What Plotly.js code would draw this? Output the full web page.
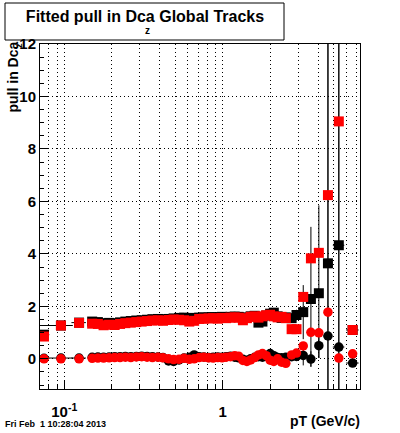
<!DOCTYPE html>
<html>
<head>
<meta charset="utf-8">
<script src="https://cdn.plot.ly/plotly-3.0.1.min.js"></script>
<style>html,body{margin:0;padding:0;background:#fff;}#chart{width:400px;height:433px;}</style>
</head>
<body>
<div id="chart"></div>
<script>
// pT bin positions (GeV/c)
const pT = [0.0745, 0.0953, 0.124, 0.15, 0.163, 0.177, 0.192, 0.208, 0.225, 0.243,
  0.263, 0.285, 0.308, 0.333, 0.36, 0.39, 0.42, 0.455, 0.49, 0.53,
  0.57, 0.615, 0.66, 0.71, 0.76, 0.815, 0.87, 0.93, 0.99, 1.05,
  1.12, 1.19, 1.26, 1.34, 1.42, 1.5, 1.59, 1.68, 1.78, 1.88,
  1.99, 2.1, 2.22, 2.35, 2.5, 2.72, 2.92, 3.22, 3.6, 4.04,
  4.61, 5.4, 6.6];

// black series: sigma (squares) and mean (circles)
const blackSigma = [0.92, 1.27, 1.38, 1.42, 1.40, 1.36, 1.37, 1.36, 1.39, 1.42,
  1.44, 1.46, 1.47, 1.49, 1.51, 1.52, 1.51, 1.52, 1.54, 1.56,
  1.57, 1.55, 1.56, 1.57, 1.58, 1.58, 1.59, 1.58, 1.60, 1.59,
  1.60, 1.61, 1.60, 1.55, 1.58, 1.62, 1.64, 1.38, 1.42, 1.65,
  1.72, 1.76, 1.62, 1.56, 1.58, 1.55, 1.67, 1.78, 2.28, 2.50,
  3.64, 4.33, 1.10];
const blackSigmaErrUp = [0.03, 0.03, 0.03, 0.03, 0.03, 0.03, 0.03, 0.03, 0.03, 0.03,
  0.03, 0.03, 0.03, 0.03, 0.03, 0.03, 0.03, 0.03, 0.03, 0.03,
  0.03, 0.03, 0.03, 0.03, 0.03, 0.03, 0.03, 0.03, 0.03, 0.03,
  0.03, 0.03, 0.03, 0.03, 0.03, 0.03, 0.03, 0.04, 0.04, 0.04,
  0.05, 0.05, 0.06, 0.06, 0.08, 0.15, 0.2, 1.03, 2.75, 3.35,
  15, 15, 0.15];
const blackSigmaErrDown = [0.03, 0.03, 0.03, 0.03, 0.03, 0.03, 0.03, 0.03, 0.03, 0.03,
  0.03, 0.03, 0.03, 0.03, 0.03, 0.03, 0.03, 0.03, 0.03, 0.03,
  0.03, 0.03, 0.03, 0.03, 0.03, 0.03, 0.03, 0.03, 0.03, 0.03,
  0.03, 0.03, 0.03, 0.03, 0.03, 0.03, 0.03, 0.04, 0.04, 0.04,
  0.05, 0.05, 0.06, 0.06, 0.08, 0.15, 0.2, 1.03, 2.57, 2.47,
  15, 15, 0.15];
const blackMean = [0.02, 0.03, 0.03, 0.06, 0.07, 0.06, 0.07, 0.08, 0.08, 0.09,
  0.08, 0.09, 0.10, 0.09, 0.08, 0.07, 0.05, -0.08, -0.10, -0.04,
  0.03, 0.06, 0.15, 0.08, 0.07, 0.05, 0.06, 0.07, 0.06, 0.08,
  0.10, 0.06, 0.04, -0.02, -0.05, 0.00, 0.06, 0.08, 0.06, 0.10,
  0.20, 0.12, 0.05, 0.04, 0.06, 0.08, 0.09, 0.13, -0.01, 0.50,
  0.87, 0.45, -0.16];
const blackMeanErr = [0.02, 0.02, 0.02, 0.02, 0.02, 0.02, 0.02, 0.02, 0.02, 0.02,
  0.02, 0.02, 0.02, 0.02, 0.02, 0.02, 0.02, 0.02, 0.02, 0.02,
  0.02, 0.02, 0.02, 0.02, 0.02, 0.02, 0.02, 0.02, 0.02, 0.02,
  0.02, 0.02, 0.02, 0.02, 0.02, 0.02, 0.02, 0.03, 0.03, 0.03,
  0.03, 0.04, 0.04, 0.05, 0.06, 0.1, 0.12, 0.38, 0.3, 0.47,
  15, 15, 0.1];
// horizontal (bin) half widths of the black series
const binHalfUp = [0.006, 0.018, 0.013, 0.006, 0.006, 0.006, 0.006, 0.006, 0.006, 0.006,
  0.006, 0.006, 0.006, 0.006, 0.006, 0.006, 0.006, 0.006, 0.006, 0.006,
  0.006, 0.006, 0.006, 0.006, 0.006, 0.006, 0.006, 0.006, 0.006, 0.006,
  0.006, 0.006, 0.006, 0.006, 0.006, 0.006, 0.006, 0.006, 0.006, 0.006,
  0.006, 0.006, 0.006, 0.006, 0.006, 0.1, 0.1, 0.12, 0.2, 0.22,
  0.3, 0.45, 0.6];
const binHalfDown = [0.01, 0.025, 0.013, 0.006, 0.006, 0.006, 0.006, 0.006, 0.006, 0.006,
  0.006, 0.006, 0.006, 0.006, 0.006, 0.006, 0.006, 0.006, 0.006, 0.006,
  0.006, 0.006, 0.006, 0.006, 0.006, 0.006, 0.006, 0.006, 0.006, 0.006,
  0.006, 0.006, 0.006, 0.006, 0.006, 0.006, 0.006, 0.006, 0.006, 0.006,
  0.006, 0.006, 0.006, 0.006, 0.006, 0.1, 0.1, 0.12, 0.2, 0.22,
  0.3, 0.45, 0.6];

// red series: sigma (squares) and mean (circles)
const redSigma = [0.85, 1.27, 1.37, 1.34, 1.33, 1.28, 1.30, 1.29, 1.33, 1.36,
  1.38, 1.40, 1.42, 1.44, 1.46, 1.47, 1.45, 1.48, 1.50, 1.49,
  1.47, 1.42, 1.45, 1.52, 1.53, 1.54, 1.55, 1.53, 1.56, 1.55,
  1.57, 1.58, 1.57, 1.47, 1.55, 1.60, 1.62, 1.57, 1.62, 1.66,
  1.68, 1.62, 1.58, 1.60, 1.55, 1.13, 1.13, 2.36, 3.83, 4.04,
  6.24, 9.05, 1.10];
const redMean = [0.00, 0.00, 0.00, 0.02, 0.03, 0.03, 0.04, 0.05, 0.05, 0.06,
  0.05, 0.07, 0.08, 0.06, 0.05, 0.06, 0.04, 0.00, -0.03, -0.02,
  0.02, -0.02, 0.00, 0.05, 0.06, 0.04, 0.03, 0.05, 0.04, 0.06,
  0.08, 0.12, 0.10, -0.06, -0.10, -0.04, 0.05, 0.15, 0.20, 0.12,
  -0.05, -0.10, 0.00, -0.13, -0.17, 0.15, 0.22, 0.49, 1.01, 0.99,
  1.78, 0.03, 0.19];

const xTicks = [0.1, 1];
const xTickText = ['10<sup>-1</sup>', '1'];
const xMinorTicks = [0.08, 0.09, 0.2, 0.3, 0.4, 0.5, 0.6, 0.7, 0.8, 0.9, 2, 3, 4, 5, 6, 7];
const yTicks = [0, 2, 4, 6, 8, 10, 12];

const F = 'Liberation Sans, Arial, Helvetica, sans-serif';
const errStyle = {color: '#000', thickness: 1, width: 0};
const gridDash = '1px,3px';

const traces = [
  {x: pT, y: blackSigma, type: 'scatter', mode: 'markers', name: 'sigma (black)',
   marker: {symbol: 'square', size: 10, color: '#000'},
   error_y: Object.assign({type: 'data', symmetric: false, array: blackSigmaErrUp, arrayminus: blackSigmaErrDown}, errStyle),
   error_x: Object.assign({type: 'data', symmetric: false, array: binHalfUp, arrayminus: binHalfDown}, errStyle)},
  {x: pT, y: blackMean, type: 'scatter', mode: 'markers', name: 'mean (black)',
   marker: {symbol: 'circle', size: 9.5, color: '#000'},
   error_y: Object.assign({type: 'data', array: blackMeanErr}, errStyle),
   error_x: Object.assign({type: 'data', symmetric: false, array: binHalfUp, arrayminus: binHalfDown}, errStyle)},
  {x: pT, y: redSigma, type: 'scatter', mode: 'markers', name: 'sigma (red)',
   marker: {symbol: 'square', size: 10, color: '#ff0000'}},
  {x: pT, y: redMean, type: 'scatter', mode: 'markers', name: 'mean (red)',
   marker: {symbol: 'circle', size: 9.5, color: '#ff0000'}}
];

const plotL = 40, plotR = 360, plotT = 44, plotB = 389;
const px = v => (v - plotL) / (plotR - plotL);
const py = v => (plotB - v) / (plotB - plotT);

const layout = {
  width: 400, height: 433,
  margin: {l: 40, r: 40, t: 44, b: 44, pad: 0},
  paper_bgcolor: '#fff', plot_bgcolor: '#fff',
  showlegend: false,
  title: {text: 'Fitted pull in Dca Global Tracks', xref: 'container', yref: 'container',
          x: 0.3625, y: 1 - 16 / 433, xanchor: 'center', yanchor: 'middle',
          font: {family: F, size: 16, color: '#000', weight: 'bold'}},
  xaxis: {type: 'log', range: [-1.153, 0.866], showline: true, linecolor: '#000', linewidth: 1,
          mirror: true, ticks: 'inside', ticklen: 9, tickcolor: '#000', tickwidth: 1,
          tickvals: xTicks, ticktext: xTickText, ticklabelstandoff: 9,
          tickfont: {family: F, size: 15, color: '#000', weight: 'bold'},
          showgrid: true, gridcolor: '#000', gridwidth: 1, griddash: gridDash, zeroline: false,
          minor: {tickvals: xMinorTicks, ticks: 'inside', ticklen: 5, tickcolor: '#000',
                  showgrid: true, gridcolor: '#000', gridwidth: 1, griddash: gridDash}},
  yaxis: {range: [-1.15, 12], showline: true, linecolor: '#000', linewidth: 1,
          mirror: true, ticks: 'inside', ticklen: 8, tickcolor: '#000', tickwidth: 1,
          tickvals: yTicks, ticklabelstandoff: 0,
          tickfont: {family: F, size: 15, color: '#000', weight: 'bold'},
          showgrid: true, gridcolor: '#000', gridwidth: 1, griddash: gridDash, zeroline: false,
          minor: {dtick: 0.5, ticks: 'inside', ticklen: 4, tickcolor: '#000', showgrid: false}},
  shapes: [
    {type: 'rect', xref: 'paper', yref: 'paper', x0: px(5), x1: px(284), y0: py(40), y1: py(3),
     line: {color: '#000', width: 1}, fillcolor: 'rgba(0,0,0,0)'}
  ],
  annotations: [
    {text: 'z', xref: 'paper', yref: 'paper', x: px(147), y: py(30), xanchor: 'center', yanchor: 'middle',
     showarrow: false, font: {family: F, size: 10, color: '#000', weight: 'bold'}},
    {text: 'pull in Dca', xref: 'paper', yref: 'paper', x: px(12), y: py(40), xanchor: 'center', yanchor: 'top',
     textangle: -90, showarrow: false, font: {family: F, size: 14, color: '#000', weight: 'bold'}},
    {text: 'z', xref: 'paper', yref: 'paper', x: px(19), y: py(46), xanchor: 'center', yanchor: 'middle',
     textangle: -90, showarrow: false, font: {family: F, size: 9, color: '#000', weight: 'bold'}},
    {text: 'pT (GeV/c)', xref: 'paper', yref: 'paper', x: px(362), y: py(421), xanchor: 'right', yanchor: 'middle',
     showarrow: false, font: {family: F, size: 14, color: '#000', weight: 'bold'}},
    {text: 'Fri Feb \u00a01 10:28:04 2013', xref: 'paper', yref: 'paper', x: px(3), y: py(424), xanchor: 'left', yanchor: 'middle',
     showarrow: false, font: {family: F, size: 9, color: '#000', weight: 'bold'}}
  ]
};

Plotly.newPlot('chart', traces, layout, {displayModeBar: false, staticPlot: true});
</script>
</body>
</html>
